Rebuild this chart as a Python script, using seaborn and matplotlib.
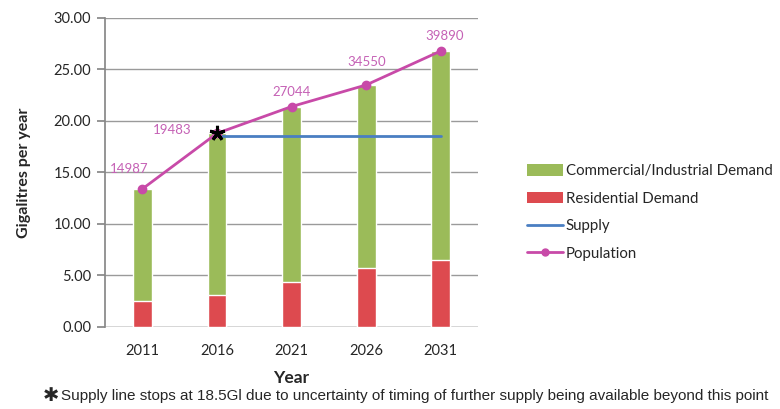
import matplotlib
matplotlib.use("Agg")
import matplotlib.pyplot as plt
import seaborn as sns
import pandas as pd
from matplotlib.patches import Patch
from matplotlib.lines import Line2D

# Water demand by year (gigalitres per year)
years = ["2011", "2016", "2021", "2026", "2031"]
residential = [2.5, 3.1, 4.4, 5.7, 6.5]
commercial_industrial = [10.9, 15.7, 17.0, 17.8, 20.3]
supply_years = ["2016", "2021", "2026", "2031"]
supply = [18.5, 18.5, 18.5, 18.5]
population = [14987, 19483, 27044, 34550, 39890]
yticks = [0, 5, 10, 15, 20, 25, 30]

GREEN = "#9BBB59"
RED = "#DD4A4F"
BLUE = "#4A7EC2"
MAGENTA = "#C84AA8"
LABEL_MAGENTA = "#C561B5"

sns.set_theme(style="white")
plt.rcParams["font.family"] = ["Lato", "DejaVu Sans"]

total = [r + c for r, c in zip(residential, commercial_industrial)]
df = pd.DataFrame({"Year": years, "Residential": residential, "Total": total})

fig = plt.figure(figsize=(7.8, 4.09), dpi=100)
ax = fig.add_axes([0.1346, 0.2005, 0.4784, 0.7555])

# stacked bars: full demand in green, residential share painted over in red
sns.barplot(data=df, x="Year", y="Total", color=GREEN, width=0.25,
            saturation=1, ax=ax, zorder=2)
sns.barplot(data=df, x="Year", y="Residential", color=RED, width=0.25,
            saturation=1, ax=ax, zorder=2)

xpos = {y: i for i, y in enumerate(years)}

# supply line
ax.plot([xpos[y] for y in supply_years], supply, color=BLUE, lw=2, zorder=3)

# population trend traced along the demand totals
ax.plot(range(len(years)), total, color=MAGENTA, lw=2, marker="o",
        markersize=6, zorder=4)
label_offsets = [(-0.18, 1.4), (-0.6, 0.3), (0.0, 0.8), (0.0, 1.6), (0.05, 0.9)]
for i, (p, t) in enumerate(zip(population, total)):
    dx, dy = label_offsets[i]
    ax.text(i + dx, t + dy, f"{p}", color=LABEL_MAGENTA, fontsize=9.5,
            ha="center", va="bottom" if dy > 0.5 else "center", zorder=5)

# asterisk where the supply line starts
ax.plot([xpos["2016"]], [18.8], linestyle="none", marker=(5, 2, 0),
        markersize=11, markeredgewidth=2.2, color="black", zorder=6)

ax.set_ylim(0, 30)
ax.set_xlim(-0.5, len(years) - 0.5)
ax.set_yticks(yticks)
ax.set_yticklabels([f"{v:.2f}" for v in yticks], fontsize=10.5)
ax.tick_params(axis="x", labelsize=10.5, length=0, pad=12)
ax.tick_params(axis="y", length=6, color="#888888", left=True, pad=4)
ax.yaxis.grid(True, color="#9a9a9a", lw=1)
ax.set_axisbelow(True)
for s in ["top", "right", "bottom"]:
    ax.spines[s].set_visible(False)
ax.spines["left"].set_color("#888888")
ax.axhline(0, color="#888888", lw=1, zorder=1)

ax.set_xlabel("Year", fontsize=12.5, fontweight="bold", labelpad=9)
ax.set_ylabel("Gigalitres per year", fontsize=11.5, fontweight="bold", labelpad=16)

handles = [
    Patch(facecolor=GREEN, edgecolor="none"),
    Patch(facecolor=RED, edgecolor="none"),
    Line2D([0], [0], color=BLUE, lw=2),
    Line2D([0], [0], color=MAGENTA, lw=2, marker="o", markersize=5),
]
labels = ["Commercial/Industrial Demand", "Residential Demand", "Supply", "Population"]
fig.legend(handles, labels, loc="upper left", bbox_to_anchor=(0.658, 0.632),
           frameon=False, fontsize=10.8, handlelength=2.4, handleheight=0.8,
           labelspacing=0.9, handletextpad=0.2)

# footnote
fig.text(0.065, 0.032, "\u2731", fontsize=14, family=["DejaVu Sans"],
         ha="center", va="center")
fig.text(0.078, 0.032,
         "Supply line stops at 18.5Gl due to uncertainty of timing of further supply being available beyond this point",
         fontsize=11, family=["Liberation Sans Narrow", "Liberation Sans", "DejaVu Sans"],
         va="center")

fig.savefig("out.png", dpi=100)
